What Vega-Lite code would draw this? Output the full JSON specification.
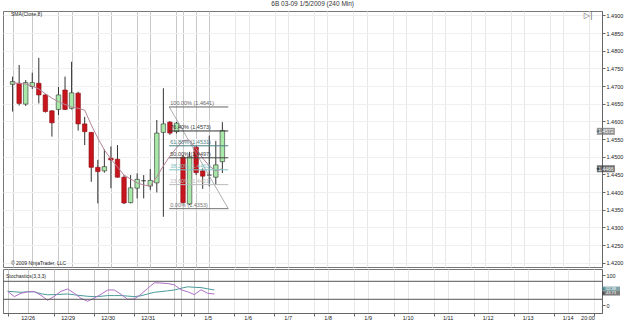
{
 "$schema": "https://vega.github.io/schema/vega-lite/v6.json",
 "background": "white",
 "padding": {"left": 2, "top": 1, "right": 0, "bottom": 0},
 "title": {"text": "6B 03-09  1/5/2009 (240 Min)", "fontSize": 6.5, "fontWeight": "normal", "color": "#333", "font": "Liberation Sans", "offset": 3, "anchor": "middle"},
 "config": {
  "view": {"stroke": "#777", "strokeWidth": 1},
  "concat": {"spacing": 0},
  "font": "Liberation Sans",
  "axis": {"labelFont": "Liberation Sans", "labelFontSize": 5.5, "labelColor": "#222", "domainColor": "#666", "tickColor": "#666"}
 },
 "datasets": {
  "candles": [
   {"idx":1,"o":1.4705,"h":1.4727,"l":1.4628,"c":1.4713,"sma":1.4709},
   {"idx":2,"o":1.4708,"h":1.4760,"l":1.4645,"c":1.4651,"sma":1.4708},
   {"idx":3,"o":1.4649,"h":1.4717,"l":1.4644,"c":1.4710,"sma":1.4706},
   {"idx":4,"o":1.4699,"h":1.4738,"l":1.4692,"c":1.4710,"sma":1.4700},
   {"idx":5,"o":1.4708,"h":1.4780,"l":1.4651,"c":1.4675,"sma":1.4692},
   {"idx":6,"o":1.4675,"h":1.4678,"l":1.4625,"c":1.4628,"sma":1.4678},
   {"idx":7,"o":1.4630,"h":1.4632,"l":1.4557,"c":1.4596,"sma":1.4666},
   {"idx":8,"o":1.4634,"h":1.4698,"l":1.4618,"c":1.4675,"sma":1.4656},
   {"idx":9,"o":1.4689,"h":1.4727,"l":1.4632,"c":1.4634,"sma":1.4648},
   {"idx":10,"o":1.4637,"h":1.4769,"l":1.4634,"c":1.4681,"sma":1.4641},
   {"idx":11,"o":1.4680,"h":1.4684,"l":1.4574,"c":1.4593,"sma":1.4637},
   {"idx":12,"o":1.4593,"h":1.4613,"l":1.4533,"c":1.4571,"sma":1.4632},
   {"idx":13,"o":1.4569,"h":1.4570,"l":1.4429,"c":1.4470,"sma":1.4590},
   {"idx":14,"o":1.4470,"h":1.4491,"l":1.4368,"c":1.4458,"sma":1.4553},
   {"idx":15,"o":1.4460,"h":1.4521,"l":1.4455,"c":1.4472,"sma":1.4519},
   {"idx":16,"o":1.4496,"h":1.4529,"l":1.4411,"c":1.4491,"sma":1.4494},
   {"idx":17,"o":1.4493,"h":1.4533,"l":1.4441,"c":1.4442,"sma":1.4471},
   {"idx":18,"o":1.4442,"h":1.4448,"l":1.4366,"c":1.4369,"sma":1.4448},
   {"idx":19,"o":1.4370,"h":1.4448,"l":1.4368,"c":1.4412,"sma":1.4437},
   {"idx":20,"o":1.4411,"h":1.4453,"l":1.4382,"c":1.4436,"sma":1.4426},
   {"idx":21,"o":1.4432,"h":1.4448,"l":1.4382,"c":1.4432,"sma":1.4420},
   {"idx":22,"o":1.4417,"h":1.4465,"l":1.4406,"c":1.4433,"sma":1.4417},
   {"idx":23,"o":1.4426,"h":1.4604,"l":1.4399,"c":1.4567,"sma":1.4443},
   {"idx":24,"o":1.4569,"h":1.4694,"l":1.4330,"c":1.4593,"sma":1.4474},
   {"idx":25,"o":1.4598,"h":1.4601,"l":1.4562,"c":1.4567,"sma":1.4502},
   {"idx":26,"o":1.4571,"h":1.4599,"l":1.4566,"c":1.4595,"sma":1.4525},
   {"idx":27,"o":1.4499,"h":1.4505,"l":1.4368,"c":1.4370,"sma":1.4545},
   {"idx":28,"o":1.4366,"h":1.4514,"l":1.4363,"c":1.4500,"sma":1.4547},
   {"idx":29,"o":1.4527,"h":1.4530,"l":1.4448,"c":1.4455,"sma":1.4522},
   {"idx":30,"o":1.4460,"h":1.4467,"l":1.4409,"c":1.4445,"sma":1.4496},
   {"idx":31,"o":1.4448,"h":1.4560,"l":1.4416,"c":1.4448,"sma":1.4474},
   {"idx":32,"o":1.4442,"h":1.4545,"l":1.4420,"c":1.4477,"sma":1.4460},
   {"idx":33,"o":1.4486,"h":1.4598,"l":1.4454,"c":1.4574,"sma":1.4466}
  ],
  "stoch": [
   {"idx":1,"d":46.7,"k":46.7},{"idx":2,"d":45,"k":29},{"idx":3,"d":43.3,"k":40},{"idx":4,"d":45,"k":45},
   {"idx":5,"d":45,"k":45.7},{"idx":6,"d":38.3,"k":33.3},{"idx":7,"d":35,"k":16.7},{"idx":8,"d":35.7,"k":30},
   {"idx":9,"d":36.7,"k":46.7},{"idx":10,"d":37.7,"k":54.3},{"idx":11,"d":35,"k":40},{"idx":12,"d":32.3,"k":23.3},
   {"idx":13,"d":30,"k":13.3},{"idx":14,"d":29,"k":24.3},{"idx":15,"d":30,"k":36.7},{"idx":16,"d":32.3,"k":51},
   {"idx":17,"d":32.3,"k":51},{"idx":18,"d":32.3,"k":36.7},{"idx":19,"d":30.7,"k":20},{"idx":20,"d":29,"k":21},
   {"idx":21,"d":31.7,"k":36.7},{"idx":22,"d":37.7,"k":56.7},{"idx":23,"d":43.3,"k":75},{"idx":24,"d":45.7,"k":74.3},
   {"idx":25,"d":48.3,"k":72.3},{"idx":26,"d":51,"k":68.3},{"idx":27,"d":56.7,"k":51.7},{"idx":28,"d":61.7,"k":45},
   {"idx":29,"d":60,"k":35.7},{"idx":30,"d":59,"k":51.7},{"idx":31,"d":55,"k":40},{"idx":32,"d":51,"k":37.7}
  ],
  "fib": [
   {"lvl":"100.00%","p":1.4641,"label":"100.00% (1.4641)"},
   {"lvl":"76.40%","p":1.4573,"label":"76.40% (1.4573)"},
   {"lvl":"61.80%","p":1.4531,"label":"61.80% (1.4531)"},
   {"lvl":"50.00%","p":1.4497,"label":"50.00% (1.4497)"},
   {"lvl":"38.20%","p":1.4463,"label":"38.20% (1.4463)"},
   {"lvl":"23.60%","p":1.4421,"label":"23.60% (1.4421)"},
   {"lvl":"0.00%","p":1.4353,"label":"0.00% (1.4353)"}
  ],
  "pmark": [
   {"name":"last","p":1.4572,"label":"1.4572"},
   {"name":"sma","p":1.4466,"label":"1.4466"}
  ],
  "smark": [
   {"name":"D","v":55,"label":"52.38"},
   {"name":"K","v":40,"label":"43.73"}
  ],
  "levels": [{"v":80},{"v":20}]
 },
 "vconcat": [
  {
   "width": 599,
   "height": 256,
   "layer": [
    {
     "data": {"name": "candles"},
     "mark": {"type": "rule", "color": "#333", "strokeWidth": 1},
     "encoding": {
      "x": {"field": "idx", "type": "quantitative", "title": null,
        "scale": {"domain": [0.3, 90.15], "nice": false, "zero": false},
        "axis": {"orient": "bottom", "values": [1,4,8,10,14,16,20,22,26,27,29,31,35,37,41,43,47,49,53,55,59,61,65,67,71,73,77,79,83,85,89], "labels": false, "ticks": false, "domain": false, "grid": true, "gridColor": {"condition": {"test": "datum.value < 33", "value": "#c8c8c8"}, "value": "#e8e8e8"}}},
      "y": {"field": "l", "type": "quantitative", "title": null,
        "scale": {"domain": [1.418775, 1.491274], "nice": false, "zero": false},
        "axis": {"orient": "right", "values": [1.42,1.425,1.43,1.435,1.44,1.445,1.45,1.455,1.46,1.465,1.47,1.475,1.48,1.485,1.49], "format": ".4f", "tickSize": 3, "labelPadding": 1, "grid": true, "gridColor": "#efefef", "labelOverlap": false}},
      "y2": {"field": "h"}
     }
    },
    {
     "data": {"name": "candles"},
     "mark": {"type": "bar", "size": 4.5, "stroke": "#333", "strokeWidth": 0.6},
     "encoding": {
      "x": {"field": "idx", "type": "quantitative", "title": null,
        "axis": {"orient": "bottom", "values": [1,4,8,10,14,16,20,22,26,27,29,31,35,37,41,43,47,49,53,55,59,61,65,67,71,73,77,79,83,85,89], "labels": false, "ticks": false, "domain": false, "grid": true, "gridColor": {"condition": {"test": "datum.value < 33", "value": "#c8c8c8"}, "value": "#e8e8e8"}}},
      "y": {"field": "o", "type": "quantitative", "title": null,
        "axis": {"orient": "right", "values": [1.42,1.425,1.43,1.435,1.44,1.445,1.45,1.455,1.46,1.465,1.47,1.475,1.48,1.485,1.49], "format": ".4f", "tickSize": 3, "labelPadding": 1, "grid": true, "gridColor": "#efefef", "labelOverlap": false}},
      "y2": {"field": "c"},
      "fill": {"condition": [{"test": "datum.c == datum.o", "value": "#000"}, {"test": "datum.c > datum.o", "value": "#a8e8a8"}], "value": "#c8141c"},
      "stroke": {"condition": {"test": "datum.c < datum.o", "value": "#8a1015"}, "value": "#333"}
     }
    },
    {
     "data": {"name": "candles"},
     "mark": {"type": "line", "color": "#b8849a", "strokeWidth": 1},
     "encoding": {
      "x": {"field": "idx", "type": "quantitative", "title": null,
        "axis": {"orient": "bottom", "values": [1,4,8,10,14,16,20,22,26,27,29,31,35,37,41,43,47,49,53,55,59,61,65,67,71,73,77,79,83,85,89], "labels": false, "ticks": false, "domain": false, "grid": true, "gridColor": {"condition": {"test": "datum.value < 33", "value": "#c8c8c8"}, "value": "#e8e8e8"}}},
      "y": {"field": "sma", "type": "quantitative", "title": null,
        "axis": {"orient": "right", "values": [1.42,1.425,1.43,1.435,1.44,1.445,1.45,1.455,1.46,1.465,1.47,1.475,1.48,1.485,1.49], "format": ".4f", "tickSize": 3, "labelPadding": 1, "grid": true, "gridColor": "#efefef", "labelOverlap": false}}
     }
    },
    {
     "data": {"values": [{}]},
     "mark": {"type": "rule", "color": "#999", "strokeWidth": 0.8},
     "encoding": {
      "x": {"datum": 24.9, "title": null,
        "axis": {"orient": "bottom", "values": [1,4,8,10,14,16,20,22,26,27,29,31,35,37,41,43,47,49,53,55,59,61,65,67,71,73,77,79,83,85,89], "labels": false, "ticks": false, "domain": false, "grid": true, "gridColor": {"condition": {"test": "datum.value < 33", "value": "#c8c8c8"}, "value": "#e8e8e8"}}},
      "x2": {"datum": 33.9},
      "y": {"datum": 1.4641, "title": null,
        "axis": {"orient": "right", "values": [1.42,1.425,1.43,1.435,1.44,1.445,1.45,1.455,1.46,1.465,1.47,1.475,1.48,1.485,1.49], "format": ".4f", "tickSize": 3, "labelPadding": 1, "grid": true, "gridColor": "#efefef", "labelOverlap": false}},
      "y2": {"datum": 1.4353}
     }
    },
    {
     "data": {"name": "fib"},
     "mark": {"type": "rule", "strokeWidth": 1},
     "encoding": {
      "x": {"datum": 24.9, "title": null,
        "axis": {"orient": "bottom", "values": [1,4,8,10,14,16,20,22,26,27,29,31,35,37,41,43,47,49,53,55,59,61,65,67,71,73,77,79,83,85,89], "labels": false, "ticks": false, "domain": false, "grid": true, "gridColor": {"condition": {"test": "datum.value < 33", "value": "#c8c8c8"}, "value": "#e8e8e8"}}},
      "x2": {"datum": 33.9},
      "y": {"field": "p", "type": "quantitative", "title": null,
        "axis": {"orient": "right", "values": [1.42,1.425,1.43,1.435,1.44,1.445,1.45,1.455,1.46,1.465,1.47,1.475,1.48,1.485,1.49], "format": ".4f", "tickSize": 3, "labelPadding": 1, "grid": true, "gridColor": "#efefef", "labelOverlap": false}},
      "color": {"field": "lvl", "type": "nominal", "legend": null,
        "scale": {"domain": ["100.00%","76.40%","61.80%","50.00%","38.20%","23.60%","0.00%"],
                  "range": ["#666","#333","#4a7f85","#444","#80c4c4","#bbbbbb","#777"]}}
     }
    },
    {
     "data": {"name": "fib"},
     "mark": {"type": "text", "align": "left", "baseline": "bottom", "dy": -0.5, "dx": 1, "fontSize": 5.5},
     "encoding": {
      "x": {"datum": 24.9, "title": null,
        "axis": {"orient": "bottom", "values": [1,4,8,10,14,16,20,22,26,27,29,31,35,37,41,43,47,49,53,55,59,61,65,67,71,73,77,79,83,85,89], "labels": false, "ticks": false, "domain": false, "grid": true, "gridColor": {"condition": {"test": "datum.value < 33", "value": "#c8c8c8"}, "value": "#e8e8e8"}}},
      "y": {"field": "p", "type": "quantitative", "title": null,
        "axis": {"orient": "right", "values": [1.42,1.425,1.43,1.435,1.44,1.445,1.45,1.455,1.46,1.465,1.47,1.475,1.48,1.485,1.49], "format": ".4f", "tickSize": 3, "labelPadding": 1, "grid": true, "gridColor": "#efefef", "labelOverlap": false}},
      "text": {"field": "label"},
      "color": {"field": "lvl", "type": "nominal", "legend": null}
     }
    },
    {
     "data": {"name": "pmark"},
     "mark": {"type": "tick", "orient": "horizontal", "size": 18, "thickness": 7},
     "encoding": {
      "x": {"datum": 91.5, "title": null,
        "axis": {"orient": "bottom", "values": [1,4,8,10,14,16,20,22,26,27,29,31,35,37,41,43,47,49,53,55,59,61,65,67,71,73,77,79,83,85,89], "labels": false, "ticks": false, "domain": false, "grid": true, "gridColor": {"condition": {"test": "datum.value < 33", "value": "#c8c8c8"}, "value": "#e8e8e8"}}},
      "y": {"field": "p", "type": "quantitative", "title": null,
        "axis": {"orient": "right", "values": [1.42,1.425,1.43,1.435,1.44,1.445,1.45,1.455,1.46,1.465,1.47,1.475,1.48,1.485,1.49], "format": ".4f", "tickSize": 3, "labelPadding": 1, "grid": true, "gridColor": "#efefef", "labelOverlap": false}},
      "color": {"field": "name", "type": "nominal", "legend": null, "scale": {"domain": ["last","sma"], "range": ["#111","#b01030"]}}
     }
    },
    {
     "data": {"name": "pmark"},
     "mark": {"type": "point", "shape": "triangle-left", "size": 14, "filled": true, "opacity": 1},
     "encoding": {
      "x": {"datum": 90.3, "title": null,
        "axis": {"orient": "bottom", "values": [1,4,8,10,14,16,20,22,26,27,29,31,35,37,41,43,47,49,53,55,59,61,65,67,71,73,77,79,83,85,89], "labels": false, "ticks": false, "domain": false, "grid": true, "gridColor": {"condition": {"test": "datum.value < 33", "value": "#c8c8c8"}, "value": "#e8e8e8"}}},
      "y": {"field": "p", "type": "quantitative", "title": null,
        "axis": {"orient": "right", "values": [1.42,1.425,1.43,1.435,1.44,1.445,1.45,1.455,1.46,1.465,1.47,1.475,1.48,1.485,1.49], "format": ".4f", "tickSize": 3, "labelPadding": 1, "grid": true, "gridColor": "#efefef", "labelOverlap": false}},
      "color": {"field": "name", "type": "nominal", "legend": null}
     }
    },
    {
     "data": {"name": "pmark"},
     "mark": {"type": "text", "color": "white", "fontSize": 5, "baseline": "middle", "align": "center"},
     "encoding": {
      "x": {"datum": 91.5, "title": null,
        "axis": {"orient": "bottom", "values": [1,4,8,10,14,16,20,22,26,27,29,31,35,37,41,43,47,49,53,55,59,61,65,67,71,73,77,79,83,85,89], "labels": false, "ticks": false, "domain": false, "grid": true, "gridColor": {"condition": {"test": "datum.value < 33", "value": "#c8c8c8"}, "value": "#e8e8e8"}}},
      "y": {"field": "p", "type": "quantitative", "title": null,
        "axis": {"orient": "right", "values": [1.42,1.425,1.43,1.435,1.44,1.445,1.45,1.455,1.46,1.465,1.47,1.475,1.48,1.485,1.49], "format": ".4f", "tickSize": 3, "labelPadding": 1, "grid": true, "gridColor": "#efefef", "labelOverlap": false}},
      "text": {"field": "label"}
     }
    },
    {
     "data": {"values": [{"t": "SMA(Close,8)", "p": 1.4905}, {"t": "© 2009 NinjaTrader, LLC", "p": 1.4199}]},
     "mark": {"type": "text", "align": "left", "baseline": "middle", "fontSize": 5, "color": "#222"},
     "encoding": {
      "x": {"datum": 0.75, "title": null,
        "axis": {"orient": "bottom", "values": [1,4,8,10,14,16,20,22,26,27,29,31,35,37,41,43,47,49,53,55,59,61,65,67,71,73,77,79,83,85,89], "labels": false, "ticks": false, "domain": false, "grid": true, "gridColor": {"condition": {"test": "datum.value < 33", "value": "#c8c8c8"}, "value": "#e8e8e8"}}},
      "y": {"field": "p", "type": "quantitative", "title": null,
        "axis": {"orient": "right", "values": [1.42,1.425,1.43,1.435,1.44,1.445,1.45,1.455,1.46,1.465,1.47,1.475,1.48,1.485,1.49], "format": ".4f", "tickSize": 3, "labelPadding": 1, "grid": true, "gridColor": "#efefef", "labelOverlap": false}},
      "text": {"field": "t"}
     }
    },
    {
     "data": {"values": [{"t": "▷|", "p": 1.4898}]},
     "mark": {"type": "text", "align": "center", "baseline": "middle", "fontSize": 8, "color": "#666", "font": "DejaVu Sans"},
     "encoding": {
      "x": {"datum": 88.8, "title": null,
        "axis": {"orient": "bottom", "values": [1,4,8,10,14,16,20,22,26,27,29,31,35,37,41,43,47,49,53,55,59,61,65,67,71,73,77,79,83,85,89], "labels": false, "ticks": false, "domain": false, "grid": true, "gridColor": {"condition": {"test": "datum.value < 33", "value": "#c8c8c8"}, "value": "#e8e8e8"}}},
      "y": {"field": "p", "type": "quantitative", "title": null,
        "axis": {"orient": "right", "values": [1.42,1.425,1.43,1.435,1.44,1.445,1.45,1.455,1.46,1.465,1.47,1.475,1.48,1.485,1.49], "format": ".4f", "tickSize": 3, "labelPadding": 1, "grid": true, "gridColor": "#efefef", "labelOverlap": false}},
      "text": {"field": "t"}
     }
    }
   ]
  },
  {
   "width": 599,
   "height": 44,
   "layer": [
    {
     "data": {"name": "stoch"},
     "mark": {"type": "line", "color": "#4a9a9a", "strokeWidth": 1},
     "encoding": {
      "x": {"field": "idx", "type": "quantitative", "title": null,
        "scale": {"domain": [0.3, 90.15], "nice": false, "zero": false},
        "axis": {"orient": "bottom", "values": [1,4,8,10,14,16,20,22,26,27,29,31,35,37,41,43,47,49,53,55,59,61,65,67,71,73,77,79,83,85,89], "labelExpr": "datum.value==4?'12/26':datum.value==10?'12/29':datum.value==16?'12/30':datum.value==22?'12/31':datum.value==31?'1/5':datum.value==37?'1/6':datum.value==43?'1/7':datum.value==49?'1/8':datum.value==55?'1/9':datum.value==61?'1/10':datum.value==67?'1/11':datum.value==73?'1/12':datum.value==79?'1/13':datum.value==85?'1/14':datum.value==89?'20:00':''", "labelOverlap": false, "labelBound": false, "labelPadding": -1, "tickSize": 3, "labelAlign": {"condition": {"test": "datum.value == 89", "value": "right"}, "value": "center"}, "tickOpacity": {"condition": {"test": "indexof([1,8,14,20,26,27,29,35,41,47,53,59,65,71,77,83,89], datum.value) >= 0", "value": 1}, "value": 0}, "grid": true, "gridColor": {"condition": {"test": "datum.value < 33", "value": "#c8c8c8"}, "value": "#e8e8e8"}}},
      "y": {"field": "d", "type": "quantitative", "title": null,
        "scale": {"domain": [-25.7, 121], "nice": false, "zero": false},
        "axis": {"orient": "right", "values": [0, 100], "tickSize": 3, "labelPadding": 1, "grid": false}}
     }
    },
    {
     "data": {"name": "stoch"},
     "mark": {"type": "line", "color": "#b070c8", "strokeWidth": 1},
     "encoding": {
      "x": {"field": "idx", "type": "quantitative", "title": null,
        "axis": {"orient": "bottom", "values": [1,4,8,10,14,16,20,22,26,27,29,31,35,37,41,43,47,49,53,55,59,61,65,67,71,73,77,79,83,85,89], "labelExpr": "datum.value==4?'12/26':datum.value==10?'12/29':datum.value==16?'12/30':datum.value==22?'12/31':datum.value==31?'1/5':datum.value==37?'1/6':datum.value==43?'1/7':datum.value==49?'1/8':datum.value==55?'1/9':datum.value==61?'1/10':datum.value==67?'1/11':datum.value==73?'1/12':datum.value==79?'1/13':datum.value==85?'1/14':datum.value==89?'20:00':''", "labelOverlap": false, "labelBound": false, "labelPadding": -1, "tickSize": 3, "labelAlign": {"condition": {"test": "datum.value == 89", "value": "right"}, "value": "center"}, "tickOpacity": {"condition": {"test": "indexof([1,8,14,20,26,27,29,35,41,47,53,59,65,71,77,83,89], datum.value) >= 0", "value": 1}, "value": 0}, "grid": true, "gridColor": {"condition": {"test": "datum.value < 33", "value": "#c8c8c8"}, "value": "#e8e8e8"}}},
      "y": {"field": "k", "type": "quantitative", "title": null,
        "axis": {"orient": "right", "values": [0, 100], "tickSize": 3, "labelPadding": 1, "grid": false}}
     }
    },
    {
     "data": {"name": "levels"},
     "mark": {"type": "rule", "color": "#555", "strokeWidth": 1},
     "encoding": {
      "y": {"field": "v", "type": "quantitative", "title": null,
        "axis": {"orient": "right", "values": [0, 100], "tickSize": 3, "labelPadding": 1, "grid": false}}
     }
    },
    {
     "data": {"name": "smark"},
     "mark": {"type": "tick", "orient": "horizontal", "size": 18, "thickness": 4.5},
     "encoding": {
      "x": {"datum": 91.5, "title": null,
        "axis": {"orient": "bottom", "values": [1,4,8,10,14,16,20,22,26,27,29,31,35,37,41,43,47,49,53,55,59,61,65,67,71,73,77,79,83,85,89], "labelExpr": "datum.value==4?'12/26':datum.value==10?'12/29':datum.value==16?'12/30':datum.value==22?'12/31':datum.value==31?'1/5':datum.value==37?'1/6':datum.value==43?'1/7':datum.value==49?'1/8':datum.value==55?'1/9':datum.value==61?'1/10':datum.value==67?'1/11':datum.value==73?'1/12':datum.value==79?'1/13':datum.value==85?'1/14':datum.value==89?'20:00':''", "labelOverlap": false, "labelBound": false, "labelPadding": -1, "tickSize": 3, "labelAlign": {"condition": {"test": "datum.value == 89", "value": "right"}, "value": "center"}, "tickOpacity": {"condition": {"test": "indexof([1,8,14,20,26,27,29,35,41,47,53,59,65,71,77,83,89], datum.value) >= 0", "value": 1}, "value": 0}, "grid": true, "gridColor": {"condition": {"test": "datum.value < 33", "value": "#c8c8c8"}, "value": "#e8e8e8"}}},
      "y": {"field": "v", "type": "quantitative", "title": null,
        "axis": {"orient": "right", "values": [0, 100], "tickSize": 3, "labelPadding": 1, "grid": false}},
      "color": {"field": "name", "type": "nominal", "legend": null, "scale": {"domain": ["D","K"], "range": ["#2a8a8a","#c020c0"]}}
     }
    },
    {
     "data": {"name": "smark"},
     "mark": {"type": "point", "shape": "triangle-left", "size": 10, "filled": true, "opacity": 1},
     "encoding": {
      "x": {"datum": 90.3, "title": null,
        "axis": {"orient": "bottom", "values": [1,4,8,10,14,16,20,22,26,27,29,31,35,37,41,43,47,49,53,55,59,61,65,67,71,73,77,79,83,85,89], "labelExpr": "datum.value==4?'12/26':datum.value==10?'12/29':datum.value==16?'12/30':datum.value==22?'12/31':datum.value==31?'1/5':datum.value==37?'1/6':datum.value==43?'1/7':datum.value==49?'1/8':datum.value==55?'1/9':datum.value==61?'1/10':datum.value==67?'1/11':datum.value==73?'1/12':datum.value==79?'1/13':datum.value==85?'1/14':datum.value==89?'20:00':''", "labelOverlap": false, "labelBound": false, "labelPadding": -1, "tickSize": 3, "labelAlign": {"condition": {"test": "datum.value == 89", "value": "right"}, "value": "center"}, "tickOpacity": {"condition": {"test": "indexof([1,8,14,20,26,27,29,35,41,47,53,59,65,71,77,83,89], datum.value) >= 0", "value": 1}, "value": 0}, "grid": true, "gridColor": {"condition": {"test": "datum.value < 33", "value": "#c8c8c8"}, "value": "#e8e8e8"}}},
      "y": {"field": "v", "type": "quantitative", "title": null,
        "axis": {"orient": "right", "values": [0, 100], "tickSize": 3, "labelPadding": 1, "grid": false}},
      "color": {"field": "name", "type": "nominal", "legend": null}
     }
    },
    {
     "data": {"name": "smark"},
     "mark": {"type": "text", "color": "white", "fontSize": 4, "baseline": "middle", "align": "center"},
     "encoding": {
      "x": {"datum": 91.5, "title": null,
        "axis": {"orient": "bottom", "values": [1,4,8,10,14,16,20,22,26,27,29,31,35,37,41,43,47,49,53,55,59,61,65,67,71,73,77,79,83,85,89], "labelExpr": "datum.value==4?'12/26':datum.value==10?'12/29':datum.value==16?'12/30':datum.value==22?'12/31':datum.value==31?'1/5':datum.value==37?'1/6':datum.value==43?'1/7':datum.value==49?'1/8':datum.value==55?'1/9':datum.value==61?'1/10':datum.value==67?'1/11':datum.value==73?'1/12':datum.value==79?'1/13':datum.value==85?'1/14':datum.value==89?'20:00':''", "labelOverlap": false, "labelBound": false, "labelPadding": -1, "tickSize": 3, "labelAlign": {"condition": {"test": "datum.value == 89", "value": "right"}, "value": "center"}, "tickOpacity": {"condition": {"test": "indexof([1,8,14,20,26,27,29,35,41,47,53,59,65,71,77,83,89], datum.value) >= 0", "value": 1}, "value": 0}, "grid": true, "gridColor": {"condition": {"test": "datum.value < 33", "value": "#c8c8c8"}, "value": "#e8e8e8"}}},
      "y": {"field": "v", "type": "quantitative", "title": null,
        "axis": {"orient": "right", "values": [0, 100], "tickSize": 3, "labelPadding": 1, "grid": false}},
      "text": {"field": "label"}
     }
    },
    {
     "data": {"values": [{"t": "Stochastics(3,3,3)", "v": 97}]},
     "mark": {"type": "text", "align": "left", "baseline": "middle", "fontSize": 5, "color": "#222"},
     "encoding": {
      "x": {"datum": 0.75, "title": null,
        "axis": {"orient": "bottom", "values": [1,4,8,10,14,16,20,22,26,27,29,31,35,37,41,43,47,49,53,55,59,61,65,67,71,73,77,79,83,85,89], "labelExpr": "datum.value==4?'12/26':datum.value==10?'12/29':datum.value==16?'12/30':datum.value==22?'12/31':datum.value==31?'1/5':datum.value==37?'1/6':datum.value==43?'1/7':datum.value==49?'1/8':datum.value==55?'1/9':datum.value==61?'1/10':datum.value==67?'1/11':datum.value==73?'1/12':datum.value==79?'1/13':datum.value==85?'1/14':datum.value==89?'20:00':''", "labelOverlap": false, "labelBound": false, "labelPadding": -1, "tickSize": 3, "labelAlign": {"condition": {"test": "datum.value == 89", "value": "right"}, "value": "center"}, "tickOpacity": {"condition": {"test": "indexof([1,8,14,20,26,27,29,35,41,47,53,59,65,71,77,83,89], datum.value) >= 0", "value": 1}, "value": 0}, "grid": true, "gridColor": {"condition": {"test": "datum.value < 33", "value": "#c8c8c8"}, "value": "#e8e8e8"}}},
      "y": {"field": "v", "type": "quantitative", "title": null,
        "axis": {"orient": "right", "values": [0, 100], "tickSize": 3, "labelPadding": 1, "grid": false}},
      "text": {"field": "t"}
     }
    }
   ]
  }
 ]
}
